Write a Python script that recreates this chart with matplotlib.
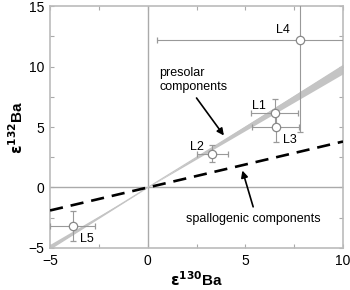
import numpy as np
import matplotlib.pyplot as plt

plt.rcParams['font.family'] = ['Liberation Sans', 'DejaVu Sans']

# sample data (epsilon units)
labels = ['L1', 'L2', 'L3', 'L4', 'L5']
e130 = [6.5, 3.3, 6.55, 7.8, -3.85]
e130_err = [1.2, 0.8, 1.2, 7.3, 1.15]
e132 = [6.2, 2.8, 5.0, 12.2, -3.2]
e132_err = [1.1, 0.7, 1.2, 7.6, 1.25]

# reference lines
presolar_slope = [0.94, 1.02]
spallogenic_slope = 0.38

fig = plt.figure(figsize=(3.5, 2.9), dpi=100)
ax = fig.add_axes([0.143, 0.145, 0.837, 0.834])

ax.axhline(0, color='#aaaaaa', lw=1.0, zorder=1)
ax.axvline(0, color='#aaaaaa', lw=1.0, zorder=1)

xs = np.array([-5, 0, 10])
ax.fill_between(xs, presolar_slope[0] * xs, presolar_slope[1] * xs,
                color='#c4c4c4', lw=0, zorder=2)
ax.plot(xs, xs, color='#c4c4c4', lw=0.8, zorder=2)
ax.plot(xs, spallogenic_slope * xs, color='black', lw=1.9,
        dashes=(5, 3), zorder=3)

ax.errorbar(e130, e132, xerr=e130_err, yerr=e132_err, fmt='o', ms=6,
            mfc='white', mec='#888888', mew=0.9, ecolor='#999999',
            elinewidth=0.8, capsize=2, capthick=0.8, zorder=4)

offsets = {'L1': (-11, 5), 'L2': (-11, 5), 'L3': (10, -9), 'L4': (-12, 7), 'L5': (10, -9)}
for lab, x, y in zip(labels, e130, e132):
    dx, dy = offsets[lab]
    ax.annotate(lab, (x, y), xytext=(dx, dy), textcoords='offset points',
                ha='center', va='center', fontsize=9)

ax.text(0.6, 8.9, 'presolar\ncomponents', fontsize=9, ha='left', va='center')
ax.annotate('', xy=(3.9, 4.3), xytext=(2.5, 7.4),
            arrowprops=dict(arrowstyle='-|>', color='black', lw=1.2,
                            shrinkA=0, shrinkB=0, mutation_scale=10))
ax.text(5.4, -2.6, 'spallogenic components', fontsize=9, ha='center', va='center')
ax.annotate('', xy=(4.85, 1.4), xytext=(5.4, -1.6),
            arrowprops=dict(arrowstyle='-|>', color='black', lw=1.2,
                            shrinkA=0, shrinkB=0, mutation_scale=10))

ax.set_xlim(-5, 10)
ax.set_ylim(-5, 15)
ax.set_xticks([-5, 0, 5, 10])
ax.set_yticks([-5, 0, 5, 10, 15])
ax.set_xticks(np.arange(-2.5, 10, 5), minor=True)
ax.set_yticks(np.arange(-2.5, 15, 5), minor=True)
ax.tick_params(which='both', direction='in', top=True, right=True,
               length=3, width=0.8, color='#aaaaaa', labelsize=10, pad=4)
for s in ax.spines.values():
    s.set_color('#bbbbbb')
    s.set_linewidth(1.2)

ax.set_xlabel(r'$\mathbf{\varepsilon}^{\mathbf{130}}$Ba', fontsize=11, fontweight='bold', labelpad=2)
ax.set_ylabel(r'$\mathbf{\varepsilon}^{\mathbf{132}}$Ba', fontsize=11, fontweight='bold', labelpad=2)

fig.savefig('out.png', dpi=100)
